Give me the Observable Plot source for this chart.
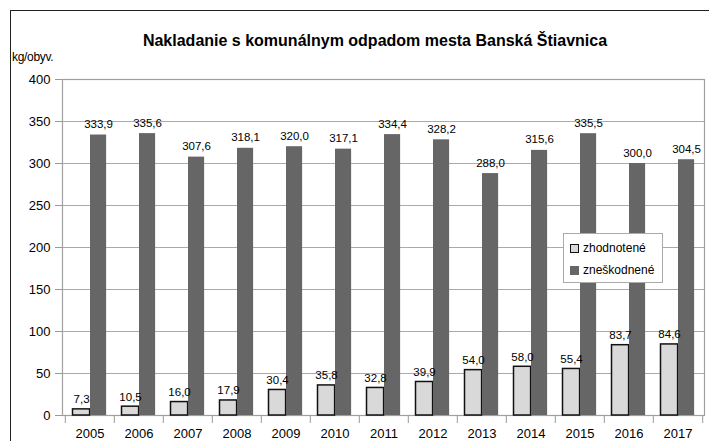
<!DOCTYPE html>
<html>
<head>
<meta charset="utf-8">
<script src="https://cdn.jsdelivr.net/npm/d3@7"></script>
<script src="https://cdn.jsdelivr.net/npm/@observablehq/plot@0.6"></script>
<style>
  html, body { margin: 0; padding: 0; background: #fff; }
  body { font-family: "Liberation Sans", Arial, sans-serif; color: #000; }
  #wrap { position: relative; width: 709px; height: 441px; overflow: hidden; }
  #frame { position: absolute; left: 10px; top: 10px; width: 720px; height: 450px;
           border-top: 1.5px solid #222; border-left: 1.5px solid #222; }
  #head { position: relative; height: 62px; }
  #title { position: absolute; left: 375px; top: 32px; transform: translateX(-50%);
           white-space: nowrap; font-weight: bold; font-size: 16px; }
  #unit { position: absolute; left: 12px; top: 50px; font-size: 12px; letter-spacing: -0.3px; }
  #legend { position: absolute; left: 563px; top: 233px; width: 98px; height: 48px;
            border: 1px solid #aaa; background: #fff; font-size: 12px; }
  .item { position: absolute; left: 6px; display: flex; align-items: center; gap: 4px; }
  .sw { width: 9px; height: 9px; box-sizing: border-box; }
</style>
</head>
<body>
<div id="wrap">
  <div id="frame"></div>
  <div id="head">
    <div id="title"></div>
    <div id="unit"></div>
  </div>
  <div id="chart"></div>
  <div id="legend"></div>
</div>
<script>
const titleText = "Nakladanie s komunálnym odpadom mesta Banská Štiavnica";
const unitText = "kg/obyv.";
const years = ["2005","2006","2007","2008","2009","2010","2011","2012","2013","2014","2015","2016","2017"];
const zhodnotene = [7.3, 10.5, 16.0, 17.9, 30.4, 35.8, 32.8, 39.9, 54.0, 58.0, 55.4, 83.7, 84.6];
const zneskodnene = [333.9, 335.6, 307.6, 318.1, 320.0, 317.1, 334.4, 328.2, 288.0, 315.6, 335.5, 300.0, 304.5];
const seriesNames = ["zhodnotené", "zneškodnené"];
const yTicks = [0, 50, 100, 150, 200, 250, 300, 350, 400];

document.getElementById("title").textContent = titleText;
document.getElementById("unit").textContent = unitText;

const W = 709, H = 379;
const mL = 62, mR = 5, mT = 17, mB = 26;
const bw = (W - mL - mR) / years.length;
const lightL = 7.5, lightW = 17.5, darkW = 16.5;
const darkL = lightL + lightW;
const fmt = v => v.toFixed(1).replace(".", ",");

const light = years.map((y, i) => ({year: y, value: zhodnotene[i]}));
const dark = years.map((y, i) => ({year: y, value: zneskodnene[i]}));

const chart = Plot.plot({
  width: W, height: H,
  marginLeft: mL, marginRight: mR, marginTop: mT, marginBottom: mB,
  style: {fontFamily: "'Liberation Sans', Arial, sans-serif", color: "#000", background: "#fff"},
  x: {type: "band", domain: years, padding: 0},
  y: {domain: [0, 400]},
  marks: [
    Plot.ruleY(yTicks, {stroke: "#aaa", strokeWidth: 1.2}),
    Plot.frame({stroke: "#a0a0a0", strokeWidth: 1.2}),
    Plot.ruleX(years, {x: d => d, dx: -bw / 2, y1: 0, y2: -9.5, stroke: "#999"}),
    Plot.ruleX([years[years.length - 1]], {x: d => d, dx: bw / 2, y1: 0, y2: -9.5, stroke: "#999"}),
    Plot.barY(light, {x: "year", y: "value", fill: "#d9d9d9", stroke: "#111", strokeWidth: 1.5,
      insetLeft: lightL, insetRight: bw - lightL - lightW}),
    Plot.barY(dark, {x: "year", y: "value", fill: "#666",
      insetLeft: darkL, insetRight: bw - darkL - darkW}),
    Plot.text(light, {x: "year", y: "value", text: d => fmt(d.value), dy: -6, lineAnchor: "bottom",
      dx: lightL + lightW / 2 - bw / 2, fontSize: 11.5, letterSpacing: -0.3}),
    Plot.text(dark, {x: "year", y: "value", text: d => fmt(d.value), dy: -7, lineAnchor: "bottom",
      dx: darkL + darkW / 2 - bw / 2, fontSize: 11.5, letterSpacing: -0.3}),
    Plot.axisY({ticks: yTicks, tickSize: 7, tickPadding: 5, label: null, fontSize: 13, stroke: "#999"}),
    Plot.axisX({tickSize: 0, tickPadding: 13, label: null, fontSize: 13})
  ]
});
document.getElementById("chart").appendChild(chart);

const legend = document.getElementById("legend");
const swatches = [{fill: "#d9d9d9", border: "1.5px solid #111"}, {fill: "#666", border: "none"}];
seriesNames.forEach((name, i) => {
  const item = document.createElement("div");
  item.className = "item";
  item.style.top = (7 + i * 22) + "px";
  const sw = document.createElement("div");
  sw.className = "sw";
  sw.style.background = swatches[i].fill;
  sw.style.border = swatches[i].border;
  const t = document.createElement("span");
  t.textContent = name;
  item.appendChild(sw);
  item.appendChild(t);
  legend.appendChild(item);
});
</script>
</body>
</html>
